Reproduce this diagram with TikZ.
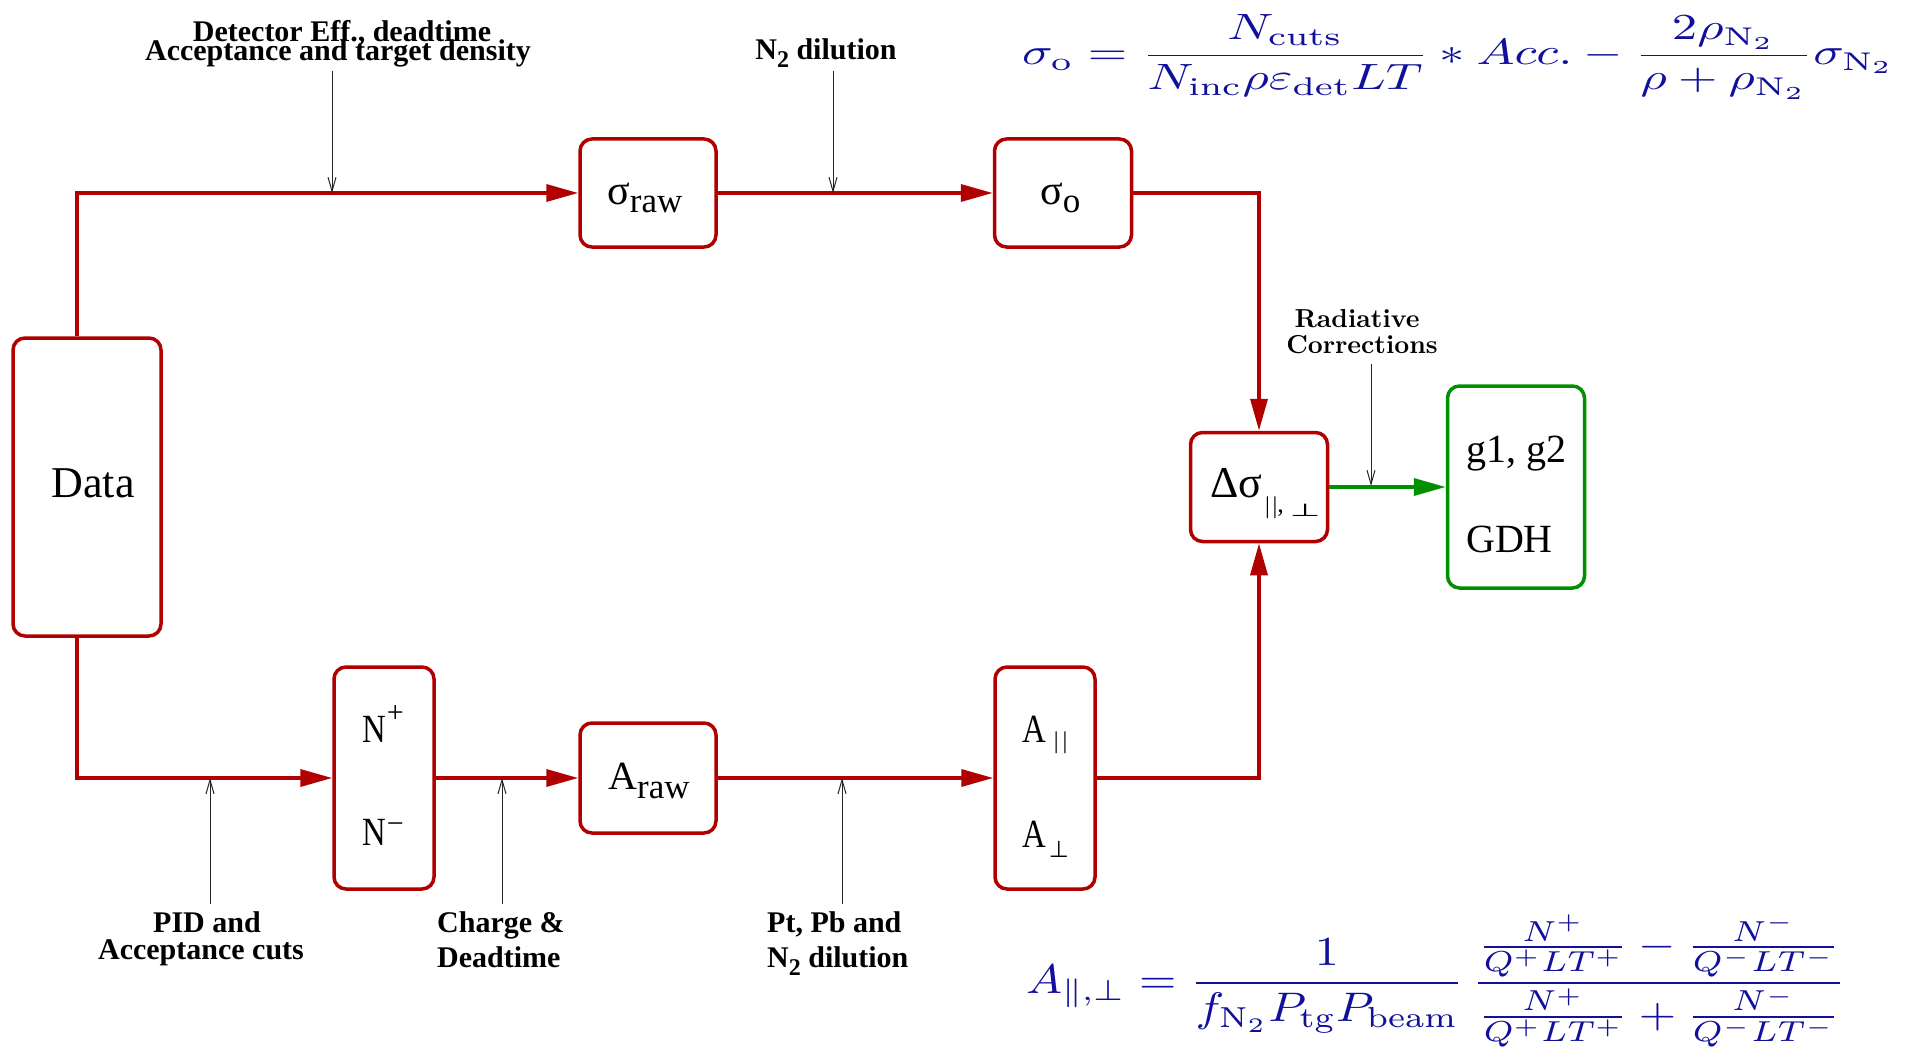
\documentclass[tikz,border=0pt]{standalone}
\usepackage{fontspec}
\usepackage{graphicx}
\usetikzlibrary{arrows.meta}
\newfontfamily\tms{Liberation Serif}
\newfontfamily\dejavu{DejaVu Sans}
\newfontfamily\lmbx{lmroman10-bold.otf}
\definecolor{dred}{HTML}{B00000}
\definecolor{dgreen}{HTML}{009000}
\definecolor{fblue}{HTML}{10109C}
\newcommand\fs[1]{\fontsize{#1}{#1}\selectfont}
\newcommand\nsub{\raisebox{-8pt}{\fs{24}2}}
\newcommand\narrow[1]{\scalebox{0.82}[1]{#1}}
\begin{document}
\begin{tikzpicture}[x=1pt,y=-1pt,
  box/.style={draw=dred, line width=3.5pt, rounded corners=12pt, inner sep=0pt},
  gbox/.style={box, draw=dgreen},
  txt/.style={inner sep=0pt, font=\tms\fs{40}},
  flow/.style={draw=dred, line width=3.5pt, -{Triangle[length=32pt,width=17pt]}},
  gflow/.style={draw=dgreen, line width=3.5pt, -{Triangle[length=32pt,width=17pt]}},
  thinarr/.style={draw=black!85, line width=1pt, -{Straight Barb[length=14pt,width=8pt]}},
  lbl/.style={inner sep=0pt, font=\tms\bfseries\fs{30}},
  rlbl/.style={inner sep=0pt, font=\lmbx\fs{26}},
]
\fill[white] (0,0) rectangle (1916,1054);
\useasboundingbox (0,0) rectangle (1916,1054);

% boxes
\node[box, minimum width=148pt, minimum height=298pt] (data) at (87,487) {};
\node[box, minimum width=136pt, minimum height=108pt] (sraw) at (648,193) {};
\node[box, minimum width=137pt, minimum height=108pt] (so) at (1063,193) {};
\node[box, minimum width=137pt, minimum height=109pt] (dsig) at (1259,487) {};
\node[gbox, minimum width=137pt, minimum height=202pt] (gdh) at (1516,487) {};
\node[box, minimum width=100pt, minimum height=222pt] (npm) at (384,778) {};
\node[box, minimum width=136pt, minimum height=110pt] (araw) at (648,778) {};
\node[box, minimum width=100pt, minimum height=222pt] (apar) at (1045,778) {};

% box texts
\node[txt, font=\tms\fs{44}, anchor=base] (tdata) at (93,497) {Data};
\node[txt, font=\tms\fs{42}, anchor=base west] (tsraw) at (607,204) {σ\raisebox{-8pt}{\fs{35}raw}};
\node[txt, font=\tms\fs{42}, anchor=base west] (tso) at (1040,204) {σ\raisebox{-8pt}{\fs{35}o}};
\node[txt, font=\tms\fs{44}, anchor=base west] (tdsig) at (1210,497) {Δσ\hspace{3pt}\raisebox{-16pt}{\fs{24}|\hspace{2.5pt}|}\raisebox{-15pt}{\fs{26},}\hspace{6pt}\raisebox{-19pt}{\dejavu\scalebox{1.6}[0.8]{\fs{22}⊥}}};
\node[txt, anchor=base west] (tgdh1) at (1466,462) {g1, g2};
\node[txt, anchor=base west] (tgdh) at (1466,552) {GDH};
\node[txt, anchor=base west] (tnp) at (362,742) {\narrow{N}\hspace{1pt}\raisebox{19.5pt}{\fs{30}+}};
\node[txt, anchor=base west] (tnm) at (362,845) {\narrow{N}\hspace{1pt}\raisebox{11.5pt}{\fs{30}−}};
\node[txt, anchor=base west] (taraw) at (608,789) {A\raisebox{-9pt}{\fs{35}raw}};
\node[txt, anchor=base west] (tapar) at (1022,742) {\narrow{A}\hspace{8pt}\raisebox{-6pt}{\fs{24}|\hspace{4pt}|}};
\node[txt, anchor=base west] (taperp) at (1022,847) {\narrow{A}\hspace{3pt}\raisebox{-10pt}{\dejavu\fs{23}⊥}};

% flow connectors
\coordinate (tl) at (77,193);
\coordinate (bl) at (77,778);
\draw[flow] (data.north -| tl) -- (tl) -- (sraw.west);
\draw[flow] (sraw.east) -- (so.west);
\draw[flow] (so.east) -| (dsig.north);
\draw[gflow] (dsig.east) -- (gdh.west);
\draw[flow] (data.south -| bl) -- (bl) -- (npm.west);
\draw[flow] (npm.east) -- (araw.west);
\draw[flow] (araw.east) -- (apar.west);
\draw[flow] (apar.east) -| (dsig.south);

% labels
\node[lbl, anchor=base] (ldet1) at (342,42) {Detector Eff., deadtime};
\node[lbl, anchor=base] (ldet2) at (338,61) {Acceptance and target density};
\node[lbl, anchor=base] (ln2) at (826,60) {N\nsub{} dilution};
\node[lbl, anchor=base] (lpid1) at (207,932) {PID and};
\node[lbl, anchor=base] (lpid2) at (201,959) {Acceptance cuts};
\node[lbl, anchor=base west] (lchg1) at (437,932) {Charge \&};
\node[lbl, anchor=base west] (lchg2) at (437,967) {Deadtime};
\node[lbl, anchor=base west] (lpt1) at (767,932) {Pt, Pb and};
\node[lbl, anchor=base west] (lpt2) at (767,967) {N\nsub{} dilution};
\node[rlbl, anchor=base] (lrad1) at (1357,327) {Radiative};
\node[rlbl, anchor=base] (lrad2) at (1362,353) {Corrections};

% thin correction arrows
\coordinate (a1s) at (332,71);  \coordinate (a1e) at (332,193);
\coordinate (a2s) at (833,71);  \coordinate (a2e) at (833,193);
\coordinate (a3s) at (1371,364); \coordinate (a3e) at (1371,486);
\coordinate (b1s) at (210,904); \coordinate (b1e) at (210,778);
\coordinate (b2s) at (502,904); \coordinate (b2e) at (502,778);
\coordinate (b3s) at (842,904); \coordinate (b3e) at (842,778);
\draw[thinarr] (a1s) -- (a1e);
\draw[thinarr] (a2s) -- (a2e);
\draw[thinarr] (a3s) -- (a3e);
\draw[thinarr] (b1s) -- (b1e);
\draw[thinarr] (b2s) -- (b2e);
\draw[thinarr] (b3s) -- (b3e);

% formulas
\node[anchor=west, inner sep=0pt, text=fblue] (ftop) at (1022,57) {\resizebox*{872pt}{84pt}{$\displaystyle \sigma_{\mathrm{o}} = \frac{N_{\mathrm{cuts}}}{N_{\mathrm{inc}}\rho\varepsilon_{\mathrm{det}}LT} * Acc. - \frac{2\rho_{\mathrm{N_2}}}{\rho + \rho_{\mathrm{N_2}}}\sigma_{\mathrm{N_2}}$}};
\node[anchor=west, inner sep=0pt, text=fblue] (fbot) at (1026,981) {\resizebox*{819pt}{132pt}{$\displaystyle A_{\parallel,\perp} = \frac{1}{f_{\mathrm{N_2}}P_{\mathrm{tg}}P_{\mathrm{beam}}}\,\frac{\frac{N^+}{Q^+LT^+}-\frac{N^-}{Q^-LT^-}}{\frac{N^+}{Q^+LT^+}+\frac{N^-}{Q^-LT^-}}$}};
\end{tikzpicture}
\end{document}
